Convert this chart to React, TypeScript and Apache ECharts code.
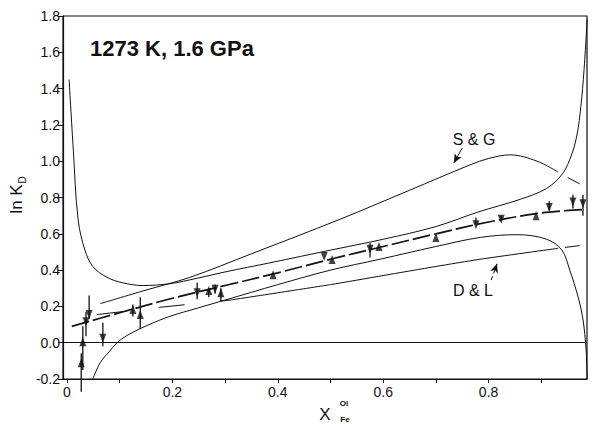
import React, { useEffect, useRef } from 'react';
import * as echarts from 'echarts';

// ---- axis ticks ----
const xTickValues = [0, 0.1, 0.2, 0.3, 0.4, 0.5, 0.6, 0.7, 0.8, 0.9];
const xLabelValues = [0, 0.2, 0.4, 0.6, 0.8];

// ---- upper envelope ----
const upperEnvX = [0.004, 0.012, 0.021, 0.034, 0.049, 0.076, 0.106, 0.144, 0.195, 0.247, 0.3, 0.385, 0.5, 0.6, 0.7, 0.78, 0.86, 0.91, 0.94, 0.958, 0.968, 0.975, 0.981, 0.987];
const upperEnvY = [1.45, 1.06, 0.68, 0.51, 0.42, 0.36, 0.33, 0.315, 0.325, 0.355, 0.39, 0.44, 0.51, 0.57, 0.64, 0.72, 0.79, 0.85, 0.93, 1.04, 1.15, 1.3, 1.5, 1.78];

// ---- lower envelope ----
const lowerEnvX = [0.049, 0.063, 0.08, 0.095, 0.114, 0.152, 0.195, 0.247, 0.3, 0.4, 0.5, 0.594, 0.7, 0.784, 0.854, 0.91, 0.939, 0.954, 0.97, 0.979, 0.985, 0.987];
const lowerEnvY = [-0.2, -0.11, -0.05, 0.0, 0.04, 0.095, 0.145, 0.19, 0.235, 0.32, 0.4, 0.46, 0.53, 0.58, 0.595, 0.57, 0.51, 0.4, 0.25, 0.13, -0.04, -0.2];

// ---- S & G model ----
const sgX = [0.063, 0.15, 0.233, 0.35, 0.518, 0.65, 0.765, 0.8, 0.841, 0.892, 0.932];
const sgY = [0.215, 0.29, 0.36, 0.49, 0.68, 0.84, 0.98, 1.015, 1.035, 1.0, 0.94];
const sgExtX = [0.95, 0.973];
const sgExtY = [0.91, 0.875];

// ---- D & L model ----
const dlLeftX = [0.057, 0.176, 0.31];
const dlLeftY = [0.155, 0.195, 0.235];
const dlX = [0.31, 0.5, 0.6, 0.7, 0.784, 0.932];
const dlY = [0.235, 0.32, 0.37, 0.42, 0.46, 0.52];
const dlExtX = [0.945, 0.973];
const dlExtY = [0.525, 0.535];

// ---- fitted curve (dashed) ----
const fitX = [0.009, 0.1, 0.2, 0.3, 0.4, 0.5, 0.6, 0.7, 0.8, 0.9, 0.985];
const fitY = [0.09, 0.165, 0.245, 0.315, 0.385, 0.46, 0.53, 0.6, 0.665, 0.715, 0.735];

// ---- experimental points ----
const ptX = [0.027, 0.03, 0.036, 0.042, 0.068, 0.125, 0.139, 0.247, 0.269, 0.281, 0.292, 0.391, 0.488, 0.503, 0.575, 0.592, 0.7, 0.776, 0.824, 0.89, 0.915, 0.96, 0.979];
const ptY = [-0.11, 0.005, 0.115, 0.155, 0.025, 0.183, 0.155, 0.275, 0.287, 0.295, 0.275, 0.375, 0.475, 0.458, 0.515, 0.53, 0.58, 0.65, 0.68, 0.7, 0.745, 0.775, 0.765];
const ptDir = ['up', 'up', 'down', 'down', 'down', 'up', 'up', 'down', 'up', 'down', 'up', 'up', 'down', 'up', 'down', 'up', 'up', 'down', 'down', 'up', 'down', 'down', 'down'];
const barLo = [-0.27, -0.15, 0.035, 0.13, -0.02, 0.145, 0.075, 0.24, 0.25, 0.27, 0.23, 0.375, 0.475, 0.458, 0.47, 0.53, 0.58, 0.65, 0.67, 0.7, 0.73, 0.74, 0.7];
const barHi = [-0.06, 0.09, 0.17, 0.26, 0.11, 0.21, 0.25, 0.33, 0.3, 0.32, 0.3, 0.375, 0.475, 0.458, 0.55, 0.53, 0.58, 0.69, 0.7, 0.7, 0.78, 0.815, 0.815];

const zip = (xs: number[], ys: number[]) => xs.map((x, i) => [x, ys[i]]);

const FONT = '"Liberation Sans", Arial, Helvetica, sans-serif';
const INK = '#111';

export default function App() {
  const ref = useRef<HTMLDivElement>(null);
  useEffect(() => {
    if (!ref.current) return;
    const chart = echarts.init(ref.current, undefined, { renderer: 'svg' });
    const thin = { color: INK, width: 1 };
    const lineSeries = (name: string, data: number[][], lineStyle: any, smooth: boolean | number = 0.35) => ({
      name,
      type: 'line',
      data,
      showSymbol: false,
      symbol: 'none',
      smooth,
      silent: true,
      lineStyle,
      z: 2,
    });
    const upData = ptX.map((x, i) => (ptDir[i] === 'up' ? [x, ptY[i]] : null)).filter(Boolean);
    const downData = ptX.map((x, i) => (ptDir[i] === 'down' ? [x, ptY[i]] : null)).filter(Boolean);
    const barData = ptX.map((x, i) => [x, barLo[i], barHi[i]]).filter((d) => d[1] !== d[2]);

    chart.setOption({
      animation: false,
      backgroundColor: '#fff',
      textStyle: { fontFamily: FONT },
      grid: { left: 63, right: 5, top: 16, bottom: 45, show: true, borderColor: INK, borderWidth: 1.2 },
      xAxis: {
        type: 'value',
        min: -0.0076,
        max: 0.9867,
        axisLine: { show: true, onZero: false, lineStyle: { color: INK, width: 1.2 } },
        axisTick: { show: true, customValues: xTickValues, length: 4, lineStyle: { color: INK } },
        axisLabel: {
          customValues: xLabelValues,
          color: INK,
          fontSize: 14,
          fontFamily: FONT,
          margin: 6,
          formatter: (v: number) => (Math.abs(v) < 1e-9 ? '0' : v.toFixed(1)),
        },
        splitLine: { show: false },
      },
      yAxis: {
        type: 'value',
        min: -0.2,
        max: 1.8,
        interval: 0.2,
        axisLine: { show: true, onZero: false, lineStyle: { color: INK, width: 1.2 } },
        axisTick: { show: true, length: 5, lineStyle: { color: INK } },
        axisLabel: {
          color: INK,
          fontSize: 14,
          fontFamily: FONT,
          margin: 3,
          formatter: (v: number) => v.toFixed(1),
        },
        splitLine: { show: false },
      },
      series: [
        {
          ...lineSeries('upperEnv', zip(upperEnvX, upperEnvY), thin),
          markLine: {
            silent: true,
            symbol: 'none',
            label: { show: false },
            lineStyle: { color: INK, width: 1, type: 'solid' },
            data: [{ yAxis: 0 }],
          },
        },
        lineSeries('lowerEnv', zip(lowerEnvX, lowerEnvY), thin),
        lineSeries('S&G', zip(sgX, sgY), thin),
        lineSeries('S&G ext', zip(sgExtX, sgExtY), thin, false),
        lineSeries('D&L left', zip(dlLeftX, dlLeftY), { color: INK, width: 1, type: [26, 36] }, false),
        lineSeries('D&L', zip(dlX, dlY), thin, 0.2),
        lineSeries('D&L ext', zip(dlExtX, dlExtY), thin, false),
        {
          ...lineSeries('fit', zip(fitX, fitY), { color: INK, width: 1.7, type: [18, 4] }),
          markLine: {
            silent: true,
            symbol: ['none', 'arrow'],
            symbolSize: [6, 9],
            label: { show: false },
            lineStyle: { color: INK, width: 1, type: 'solid' },
            data: [
              [{ coord: [0.75, 1.073] }, { coord: [0.734, 0.99] }],
              [{ coord: [0.805, 0.345], lineStyle: { type: [4, 3] } }, { coord: [0.816, 0.435] }],
            ],
          },
        },
        {
          type: 'custom',
          name: 'bars',
          silent: true,
          clip: false,
          data: barData,
          encode: { x: 0, y: [1, 2] },
          renderItem: (params: any, api: any) => {
            const p1 = api.coord([api.value(0), api.value(1)]);
            const p2 = api.coord([api.value(0), api.value(2)]);
            return {
              type: 'line',
              shape: { x1: p1[0], y1: p1[1], x2: p2[0], y2: p2[1] },
              style: { stroke: INK, lineWidth: 1.3 },
            };
          },
          z: 3,
        },
        {
          type: 'scatter',
          name: 'up',
          data: upData,
          symbol: 'triangle',
          symbolSize: [7, 9],
          itemStyle: { color: INK },
          silent: true,
          z: 4,
        },
        {
          type: 'scatter',
          name: 'down',
          data: downData,
          symbol: 'triangle',
          symbolRotate: 180,
          symbolSize: [7, 9],
          itemStyle: { color: INK },
          silent: true,
          z: 4,
        },
      ],
      graphic: [
        {
          type: 'text',
          x: 90,
          y: 48,
          style: { text: '1273 K, 1.6 GPa', fontSize: 22, fontWeight: 'bold', fontFamily: FONT, fill: INK, verticalAlign: 'middle', align: 'left' },
        },
        {
          type: 'text',
          x: 474,
          y: 139,
          style: { text: 'S & G', fontSize: 16, fontFamily: FONT, fill: INK, verticalAlign: 'middle', align: 'center' },
        },
        {
          type: 'text',
          x: 473,
          y: 290,
          style: { text: 'D & L', fontSize: 16, fontFamily: FONT, fill: INK, verticalAlign: 'middle', align: 'center' },
        },
        {
          type: 'text',
          x: 16,
          y: 199,
          rotation: Math.PI / 2,
          style: { text: 'ln K', fontSize: 17, fontFamily: FONT, fill: INK, verticalAlign: 'middle', align: 'center' },
        },
        {
          type: 'text',
          x: 22,
          y: 180,
          rotation: Math.PI / 2,
          style: { text: 'D', fontSize: 10, fontFamily: FONT, fill: INK, verticalAlign: 'middle', align: 'center' },
        },
        {
          type: 'text',
          x: 325,
          y: 414,
          style: { text: 'X', fontSize: 17, fontFamily: FONT, fill: INK, verticalAlign: 'middle', align: 'center' },
        },
        {
          type: 'text',
          x: 344,
          y: 403,
          style: { text: 'Ol', fontSize: 8, fontWeight: 'bold', fontFamily: FONT, fill: INK, verticalAlign: 'middle', align: 'center' },
        },
        {
          type: 'text',
          x: 345,
          y: 419,
          style: { text: 'Fe', fontSize: 8, fontWeight: 'bold', fontFamily: FONT, fill: INK, verticalAlign: 'middle', align: 'center' },
        },
      ],
    });
    return () => chart.dispose();
  }, []);
  return <div ref={ref} style={{ position: 'fixed', left: 0, top: 0, width: 592, height: 424 }} />;
}
